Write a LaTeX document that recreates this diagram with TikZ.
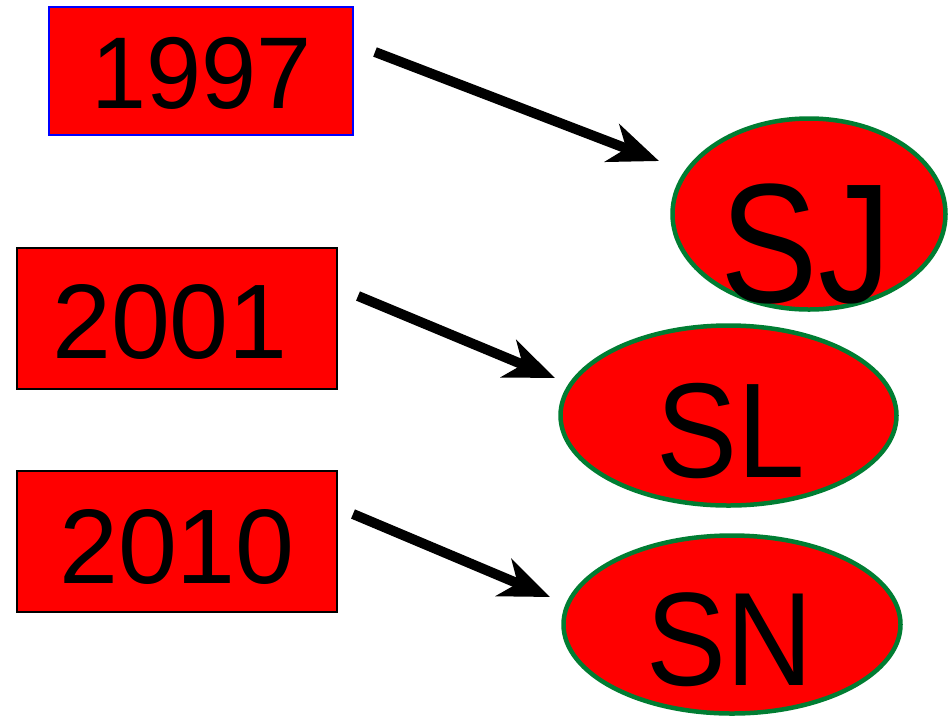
\documentclass[tikz,border=0pt]{standalone}
\usepackage{fontspec}
\setmainfont{Liberation Sans}
\usetikzlibrary{arrows.meta,shapes.geometric}
\definecolor{ringgreen}{RGB}{0,125,50}
\definecolor{boxred}{RGB}{255,0,0}
\tikzset{
  yearbox/.style={draw=black, line width=1.2pt, fill=boxred, inner sep=0pt},
  oval/.style={ellipse, draw=ringgreen, line width=4.5pt, fill=boxred, inner sep=0pt},
  bigtext/.style={anchor=base, inner sep=0pt},
  link/.style={line width=10pt, -{Stealth[length=50pt,width=40pt,inset=15pt]}}
}
\begin{document}
\begin{tikzpicture}[x=1pt,y=-1pt]
  \useasboundingbox (0,0) rectangle (949,716);

  % year boxes
  \node[yearbox, draw=blue, minimum width=304pt, minimum height=128pt] (b1997) at (201,71) {};
  \node[yearbox, minimum width=320pt, minimum height=141pt] (b2001) at (177,318.5) {};
  \node[yearbox, minimum width=320pt, minimum height=141pt] (b2010) at (177,541.5) {};

  \node[bigtext, font=\fontsize{102}{102}\selectfont, xscale=0.97, transform shape] (t1997) at (202,108) {1997};
  \node[bigtext, font=\fontsize{106}{106}\selectfont] (t2001) at (170,358) {2001};
  \node[bigtext, font=\fontsize{106}{106}\selectfont] (t2010) at (177,583) {2010};

  % ovals
  \node[oval, minimum width=273pt, minimum height=191pt] (oSJ) at (809,214) {};
  \node[oval, minimum width=336pt, minimum height=180pt] (oSL) at (728.5,415.5) {};
  \node[oval, minimum width=337pt, minimum height=178pt] (oSN) at (732,624.5) {};

  \node[bigtext, font=\fontsize{170}{170}\selectfont, xscale=0.86, transform shape] (tSJ) at (806,302) {SJ};
  \node[bigtext, font=\fontsize{135}{135}\selectfont, xscale=0.90, transform shape] (tSL) at (731,477) {SL};
  \node[bigtext, font=\fontsize{133}{133}\selectfont, xscale=0.90, transform shape] (tSN) at (730,685) {SN};

  % arrow ends
  \coordinate (s1) at (375,52);
  \coordinate (e1) at (659,161);
  \coordinate (s2) at (358,296);
  \coordinate (e2) at (555,378);
  \coordinate (s3) at (353,514);
  \coordinate (e3) at (550,597);

  \draw[link] (s1) -- (e1);
  \draw[link] (s2) -- (e2);
  \draw[link] (s3) -- (e3);
\end{tikzpicture}
\end{document}
